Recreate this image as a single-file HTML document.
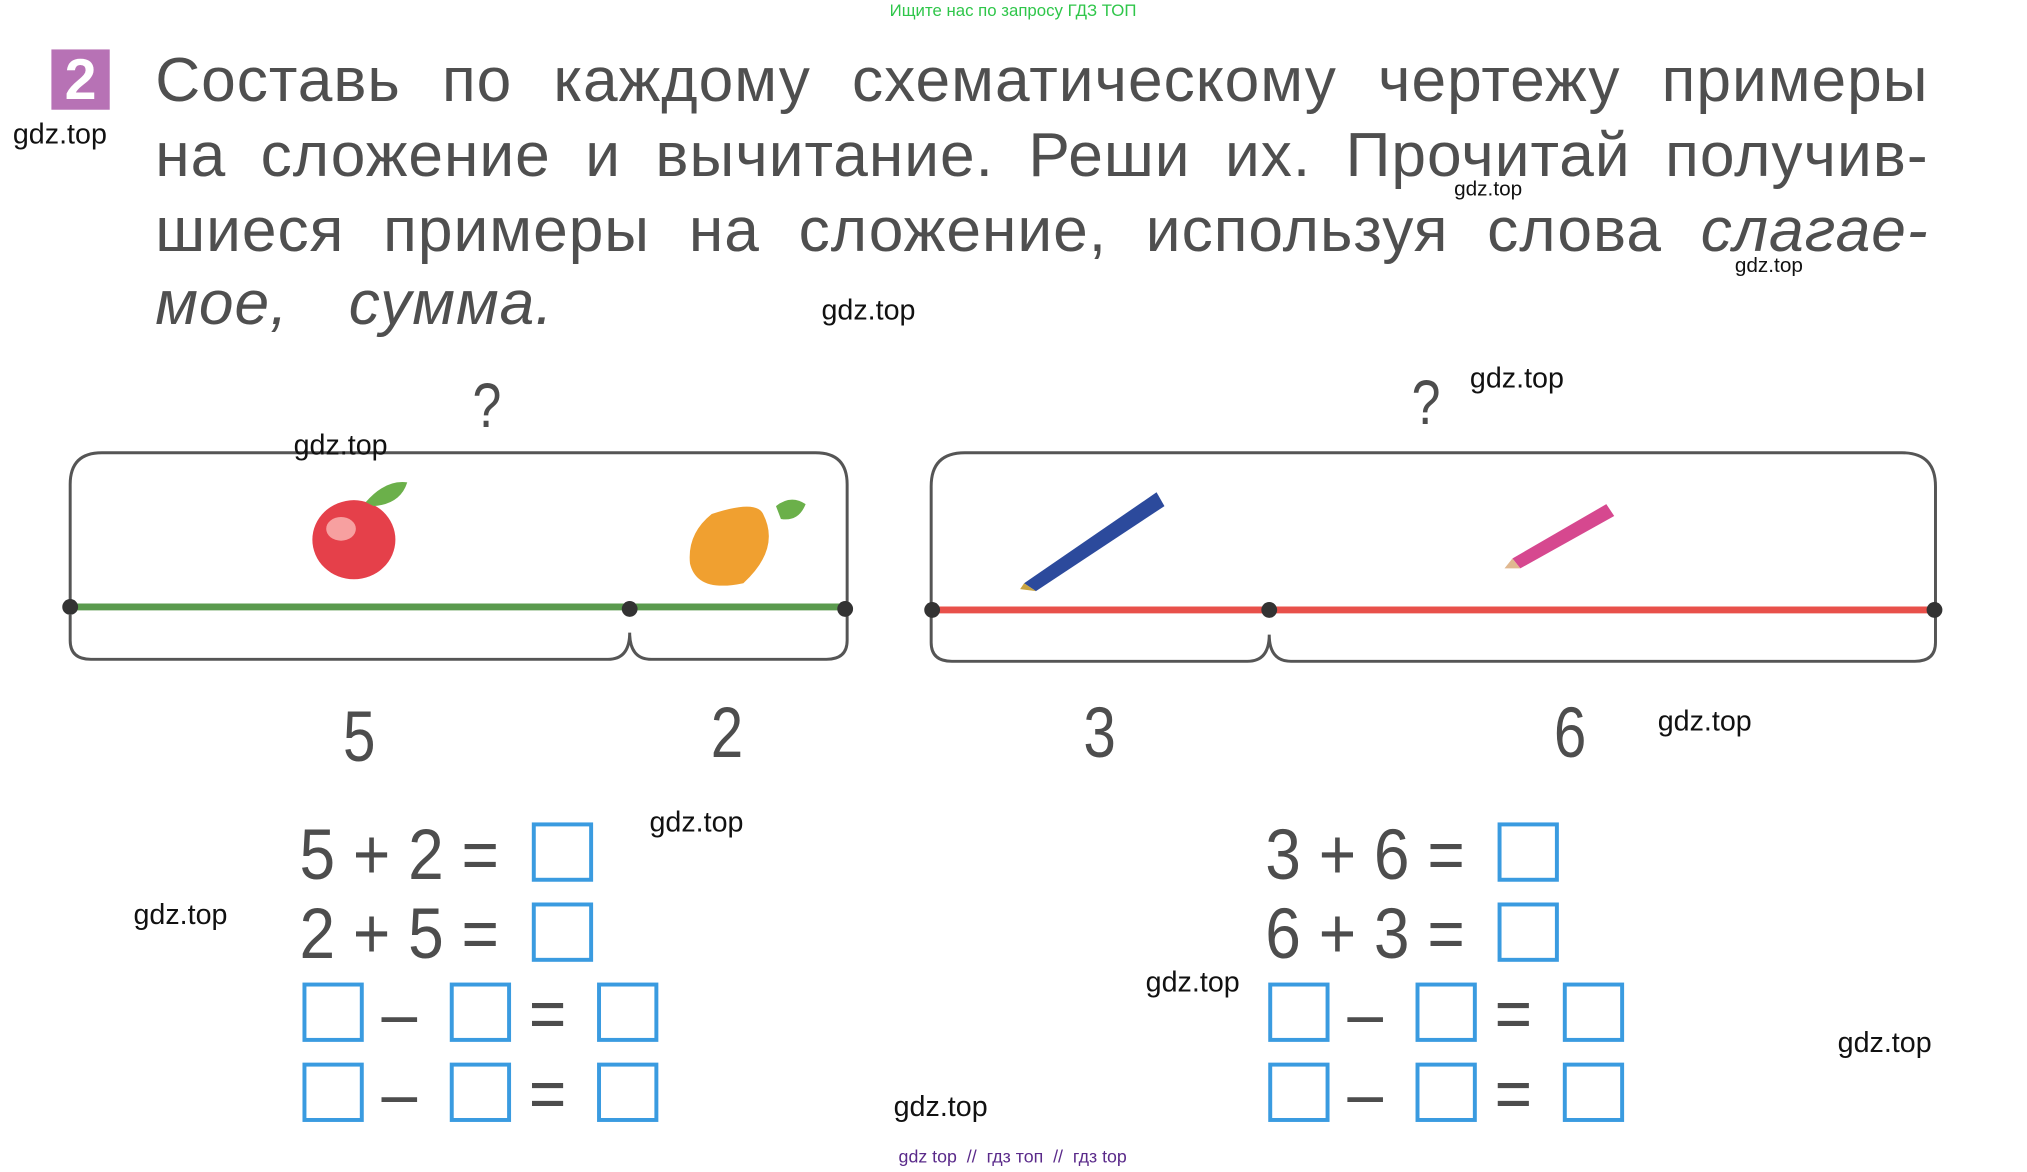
<!DOCTYPE html>
<html><head><meta charset="utf-8"><style>
body{margin:0;width:2027px;height:1172px;background:#fff;position:relative;overflow:hidden;font-family:"Liberation Sans",sans-serif}
#s{position:absolute;left:0;top:0;width:2027px;height:1172px;transform:scale(0.9885);transform-origin:0 0}
.a{position:absolute;white-space:nowrap}
.w{position:absolute;font-size:29px;color:#111;white-space:nowrap;line-height:1}
.ws{position:absolute;font-size:21px;color:#111;line-height:1}
.h{position:absolute;left:157px;width:1794px;font-size:63px;color:#4f4f4f;line-height:76px;text-align:justify;text-align-last:justify;letter-spacing:1px;word-spacing:12px}
.n{position:absolute;font-size:72px;color:#4d4d4d;line-height:1;transform:scaleX(0.82);transform-origin:0 0}
.b{position:absolute;width:54px;height:52px;border:4px solid #3a9be0}
.eq{position:absolute;font-size:72px;color:#4d4d4d;line-height:1;transform:scaleX(0.9);transform-origin:0 0;white-space:nowrap}
</style></head><body><div id="s">
<div class="a" style="left:900px;top:1px;font-size:17px;color:#2fc64a">Ищите нас по запросу ГДЗ ТОП</div>
<div class="a" style="left:52px;top:50px;width:59px;height:61px;background:#b772b5;color:#fff;font-size:58px;font-weight:bold;text-align:center;line-height:61px">2</div>
<div class="h" style="top:43px">Составь по каждому схематическому чертежу примеры</div>
<div class="h" style="top:119px">на сложение и вычитание. Реши их. Прочитай получив-</div>
<div class="h" style="top:195px">шиеся примеры на сложение, используя слова <i>слагае-</i></div>
<div class="h" style="top:269px;text-align:left;text-align-last:left"><i>мое, &nbsp;сумма.</i></div>

<svg class="a" style="left:0;top:0" width="2027" height="1172">
<g fill="none" stroke="#555" stroke-width="3">
<path d="M71 615 V490 Q71 458 103 458 H825 Q857 458 857 490 V615"/>
<path d="M71 622 V648 Q71 667 92 667 H615 Q637 667 637 640 Q637 667 659 667 H836 Q857 667 857 648 V622"/>
<path d="M942 617 V492 Q942 458 976 458 H1924 Q1958 458 1958 492 V617"/>
<path d="M942 624 V650 Q942 669 963 669 H1262 Q1284 669 1284 642 Q1284 669 1306 669 H1937 Q1958 669 1958 650 V624"/>
</g>
<line x1="71" y1="614" x2="855" y2="614" stroke="#5a9a4e" stroke-width="7"/>
<line x1="942" y1="617" x2="1958" y2="617" stroke="#e8504a" stroke-width="7"/>
<g fill="#333"><circle cx="71" cy="614" r="8"/><circle cx="637" cy="616" r="8"/><circle cx="855" cy="616" r="8"/>
<circle cx="943" cy="617" r="8"/><circle cx="1284" cy="617" r="8"/><circle cx="1957" cy="617" r="8"/></g>
<ellipse cx="358" cy="546" rx="42" ry="40" fill="#e5404a"/><ellipse cx="345" cy="535" rx="15" ry="12" fill="#f7a0a0"/>
<path d="M370 508 Q390 485 412 488 Q405 510 378 512Z" fill="#6bb04a"/>
<path d="M720 520 Q765 505 772 520 Q790 555 752 590 Q705 600 698 570 Q695 540 720 520Z" fill="#f0a030"/>
<path d="M785 512 Q800 500 815 510 Q808 528 790 525Z" fill="#6bb04a"/>
<path d="M1036 590 L1170 498 L1178 512 L1048 598Z" fill="#2c4a9c"/><path d="M1036 590 L1048 598 L1032 596Z" fill="#c9a441"/>
<path d="M1530 565 L1625 510 L1633 522 L1538 575Z" fill="#d6488f"/><path d="M1530 565 L1538 575 L1522 575Z" fill="#e0b890"/>
</svg>

<div class="n" style="left:478px;top:378px;font-size:64px">?</div>
<div class="n" style="left:1428px;top:375px;font-size:64px">?</div>
<div class="n" style="left:347px;top:710px">5</div>
<div class="n" style="left:719px;top:706px">2</div>
<div class="n" style="left:1096px;top:706px">3</div>
<div class="n" style="left:1572px;top:706px">6</div>

<div class="eq" style="left:303px;top:829px">5 + 2 =</div>
<div class="b" style="left:538px;top:832px"></div>
<div class="eq" style="left:303px;top:909px">2 + 5 =</div>
<div class="b" style="left:538px;top:913px"></div>
<div class="b" style="left:306px;top:994px"></div><div class="eq" style="left:386px;top:990px">–</div>
<div class="b" style="left:455px;top:994px"></div><div class="eq" style="left:535px;top:990px">=</div>
<div class="b" style="left:604px;top:994px"></div>
<div class="b" style="left:306px;top:1075px"></div><div class="eq" style="left:386px;top:1071px">–</div>
<div class="b" style="left:455px;top:1075px"></div><div class="eq" style="left:535px;top:1071px">=</div>
<div class="b" style="left:604px;top:1075px"></div>

<div class="eq" style="left:1280px;top:829px">3 + 6 =</div>
<div class="b" style="left:1515px;top:832px"></div>
<div class="eq" style="left:1280px;top:909px">6 + 3 =</div>
<div class="b" style="left:1515px;top:913px"></div>
<div class="b" style="left:1283px;top:994px"></div><div class="eq" style="left:1363px;top:990px">–</div>
<div class="b" style="left:1432px;top:994px"></div><div class="eq" style="left:1512px;top:990px">=</div>
<div class="b" style="left:1581px;top:994px"></div>
<div class="b" style="left:1283px;top:1075px"></div><div class="eq" style="left:1363px;top:1071px">–</div>
<div class="b" style="left:1432px;top:1075px"></div><div class="eq" style="left:1512px;top:1071px">=</div>
<div class="b" style="left:1581px;top:1075px"></div>

<div class="w" style="left:13px;top:122px">gdz.top</div>
<div class="ws" style="left:1471px;top:181px">gdz.top</div>
<div class="ws" style="left:1755px;top:258px">gdz.top</div>
<div class="w" style="left:831px;top:300px">gdz.top</div>
<div class="w" style="left:1487px;top:369px">gdz.top</div>
<div class="w" style="left:297px;top:437px">gdz.top</div>
<div class="w" style="left:1677px;top:716px">gdz.top</div>
<div class="w" style="left:657px;top:818px">gdz.top</div>
<div class="w" style="left:135px;top:912px">gdz.top</div>
<div class="w" style="left:1159px;top:980px">gdz.top</div>
<div class="w" style="left:1859px;top:1041px">gdz.top</div>
<div class="w" style="left:904px;top:1106px">gdz.top</div>
<div class="a" style="left:909px;top:1160px;font-size:18px;color:#5a2a8a">gdz top &nbsp;// &nbsp;гдз топ &nbsp;// &nbsp;гдз top</div>
</div></body></html>
